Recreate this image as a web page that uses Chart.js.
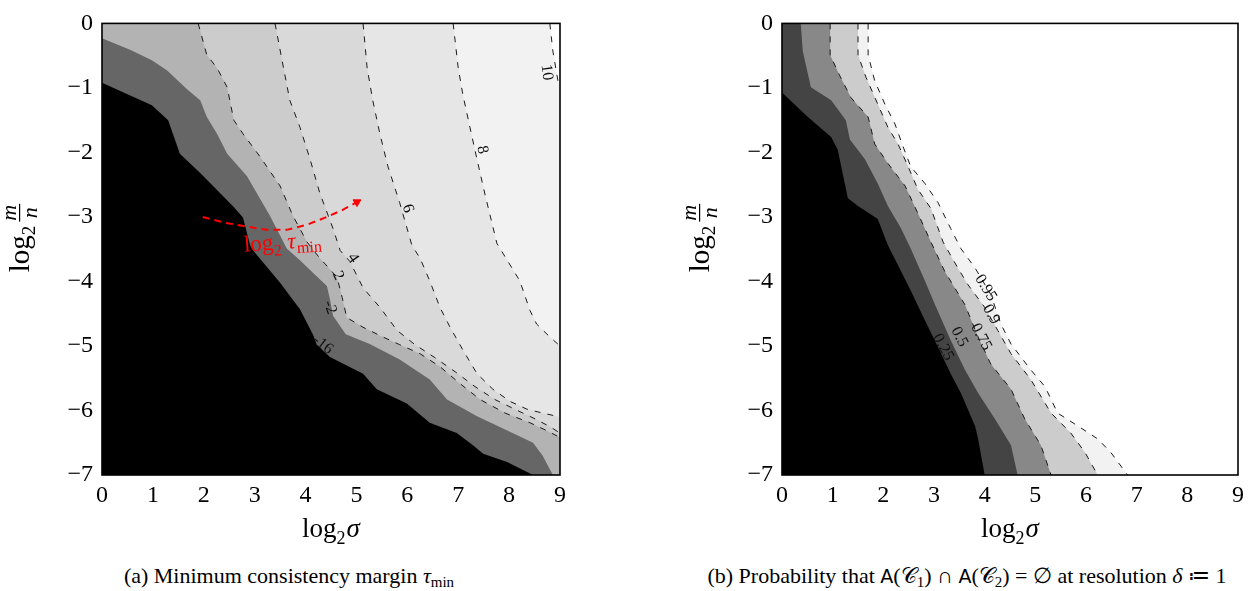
<!DOCTYPE html>
<html>
<head>
<meta charset="utf-8">
<script src="https://cdn.jsdelivr.net/npm/chart.js@4.4.0/dist/chart.umd.min.js"></script>
<style>
body { margin: 0; background: #fff; width: 1258px; height: 591px; position: relative; overflow: hidden; font-family: "Liberation Serif", serif; }
#left { position: absolute; left: 0; top: 0; }
#right { position: absolute; left: 680px; top: 0; }
.cap { position: absolute; top: 564px; font-size: 22px; line-height: 24px; white-space: nowrap; transform: translateX(-50%); color: #000; }
.cap sub { font-size: 15px; vertical-align: -4px; line-height: 0; }
.sf { font-family: "DejaVu Sans", sans-serif; font-size: 19px; }
</style>
</head>
<body>
<canvas id="left" width="600" height="560"></canvas>
<canvas id="right" width="578" height="560"></canvas>
<div class="cap" style="left:289px">(a) Minimum consistency margin <i>τ</i><sub>min</sub></div>
<div class="cap" style="left:967px">(b) Probability that <span class="sf">A</span>(𝒞<sub>1</sub>) ∩ <span class="sf">A</span>(𝒞<sub>2</sub>) = ∅ at resolution <i>δ</i> ≔ 1</div>
<script>
// axes: log2 sigma (x) and log2 m/n (y)
var X_MIN = 0, X_MAX = 9, Y_MIN = -7, Y_MAX = 0;
var xTicks = [0, 1, 2, 3, 4, 5, 6, 7, 8, 9];
var yTicks = [0, -1, -2, -3, -4, -5, -6, -7];

// (a) minimum consistency margin, contour lines [x, y]
var tauLevels = [-16, -2, 2, 4, 6, 8, 10];
var tauColors = ['#666666', '#b3b3b3', '#cccccc', '#d9d9d9', '#e6e6e6', '#f2f2f2', '#ffffff'];
var tauBase = '#000000';
var tauM16 = [[0,-0.92],[0.98,-1.27],[1.30,-1.50],[1.53,-2.02],[1.93,-2.32],[2.57,-2.83],[2.77,-3.01],[2.91,-3.44],[2.97,-3.52],[3.50,-4.02],[3.89,-4.43],[4.15,-4.83],[4.22,-4.98],[4.48,-5.17],[5.13,-5.43],[5.40,-5.67],[5.99,-5.89],[6.44,-6.19],[6.97,-6.35],[7.29,-6.54],[7.49,-6.67],[7.96,-6.80],[8.47,-7]];
var tauM2 = [[0,-0.23],[0.55,-0.41],[0.98,-0.57],[1.28,-0.73],[1.67,-1.02],[1.93,-1.19],[2.06,-1.45],[2.26,-1.71],[2.46,-2.02],[2.85,-2.37],[3.04,-2.63],[3.30,-2.98],[3.63,-3.49],[3.89,-3.67],[4.15,-3.87],[4.42,-4.07],[4.48,-4.28],[4.54,-4.53],[4.79,-4.82],[5.26,-4.97],[5.85,-5.21],[6.44,-5.52],[6.78,-5.83],[7.37,-6.09],[7.88,-6.28],[8.47,-6.50],[8.66,-6.70],[8.86,-7]];
var tau2 = [[1.89,0],[2.06,-0.49],[2.26,-0.69],[2.46,-0.99],[2.59,-1.50],[2.77,-1.71],[3.10,-2.06],[3.50,-2.52],[3.75,-2.98],[4.03,-3.39],[4.28,-3.64],[4.48,-3.81],[4.62,-3.94],[4.72,-4.25],[4.81,-4.56],[5.13,-4.71],[5.52,-4.86],[5.85,-4.98],[6.25,-5.12],[6.64,-5.32],[7.03,-5.58],[7.43,-5.83],[7.92,-6.04],[8.41,-6.19],[8.76,-6.32],[9,-6.42]];
var tau4 = [[3.40,0],[3.54,-0.58],[3.69,-1.19],[3.89,-1.61],[4.09,-2.11],[4.28,-2.63],[4.54,-3.18],[4.68,-3.52],[4.87,-3.69],[5.13,-4.10],[5.46,-4.40],[5.80,-4.76],[6.15,-4.98],[6.54,-5.18],[6.94,-5.40],[7.33,-5.63],[7.72,-5.83],[8.11,-5.98],[8.51,-6.13],[8.80,-6.25],[9,-6.35]];
var tau6 = [[5.13,0],[5.21,-0.69],[5.32,-1.19],[5.46,-1.71],[5.62,-2.22],[5.85,-2.78],[6.09,-3.44],[6.25,-3.64],[6.44,-3.99],[6.64,-4.40],[6.84,-4.71],[7.09,-5.06],[7.37,-5.43],[7.68,-5.67],[8.02,-5.86],[8.35,-5.98],[8.66,-6.04],[9,-6.10]];
var tau8 = [[6.90,0],[7.00,-0.69],[7.09,-1.10],[7.23,-1.61],[7.37,-2.11],[7.52,-2.63],[7.76,-3.41],[8.21,-3.99],[8.41,-4.45],[8.54,-4.66],[8.80,-4.86],[9,-5.00]];
var tau10 = [[8.80,0],[8.86,-0.43],[8.96,-0.89],[9,-0.96]];
var tauLabels = [
  {t: '10', x: 8.74, y: -0.76, a: 82},
  {t: '8', x: 7.47, y: -1.96, a: 78},
  {t: '6', x: 6.01, y: -2.87, a: 72},
  {t: '4', x: 4.93, y: -3.64, a: 55},
  {t: '2', x: 4.64, y: -3.91, a: 65},
  {t: '-2', x: 4.48, y: -4.40, a: 70},
  {t: '-16', x: 4.34, y: -4.98, a: 38}
];
// red annotation arrow
var arrowPath = [[1.98,-3.00],[2.42,-3.09],[2.85,-3.15],[3.24,-3.20],[3.63,-3.20],[4.03,-3.12],[4.42,-3.00],[4.73,-2.89],[5.01,-2.77]];
var arrowText = {x: 3.55, y: -3.39, a: -4};

// (b) probability of empty intersection, contour lines [x, y]
var probLevels = [0.25, 0.5, 0.75, 0.9, 0.95];
var probColors = ['#444444', '#888888', '#cccccc', '#f2f2f2', '#ffffff'];
var probBase = '#000000';
var p25 = [[0,-1.07],[0.51,-1.45],[0.97,-1.76],[1.10,-1.96],[1.30,-2.71],[1.50,-2.83],[1.89,-3.03],[2.09,-3.44],[2.29,-3.75],[2.54,-4.14],[2.82,-4.60],[3.08,-5.02],[3.33,-5.43],[3.53,-5.73],[3.81,-6.24],[3.87,-6.44],[4.00,-7]];
var p50 = [[0.37,0],[0.41,-0.43],[0.57,-0.99],[0.97,-1.19],[1.26,-1.50],[1.34,-1.80],[1.64,-2.11],[1.89,-2.48],[2.09,-2.83],[2.35,-3.18],[2.54,-3.49],[2.82,-3.99],[3.02,-4.36],[3.33,-4.91],[3.61,-5.37],[3.87,-5.73],[4.20,-6.13],[4.52,-6.54],[4.65,-7]];
var p75 = [[0.95,0],[0.95,-0.49],[1.14,-0.81],[1.36,-1.15],[1.70,-1.45],[1.83,-1.87],[2.09,-2.17],[2.43,-2.52],[2.68,-2.94],[2.94,-3.39],[3.21,-3.84],[3.61,-4.36],[3.87,-4.86],[4.12,-5.28],[4.52,-5.67],[4.79,-6.13],[5.11,-6.54],[5.31,-7]];
var p90 = [[1.50,0],[1.50,-0.49],[1.66,-0.84],[1.89,-1.25],[2.09,-1.61],[2.29,-1.87],[2.49,-2.22],[2.68,-2.57],[2.94,-2.87],[3.18,-3.39],[3.47,-3.79],[3.67,-4.05],[4.00,-4.40],[4.26,-4.76],[4.52,-5.12],[4.91,-5.52],[5.31,-6.04],[5.70,-6.35],[5.98,-6.65],[6.23,-7]];
var p95 = [[1.70,0],[1.70,-0.49],[1.83,-0.89],[2.03,-1.25],[2.23,-1.56],[2.39,-1.91],[2.54,-2.22],[2.82,-2.48],[3.08,-2.78],[3.33,-3.18],[3.53,-3.49],[3.81,-3.79],[4.12,-4.20],[4.32,-4.66],[4.52,-4.97],[4.91,-5.37],[5.19,-5.63],[5.44,-6.04],[5.84,-6.24],[6.23,-6.44],[6.49,-6.65],[6.82,-7]];
var probLabels = [
  {t: '0.95', x: 4.02, y: -4.10, a: 58},
  {t: '0.9', x: 4.13, y: -4.51, a: 60},
  {t: '0.75', x: 3.93, y: -4.86, a: 62},
  {t: '0.5', x: 3.50, y: -4.86, a: 62},
  {t: '0.25', x: 3.18, y: -5.02, a: 62}
];

var SERIF = '"Liberation Serif", "DejaVu Serif", serif';

function toPts(curve) {
  return curve.map(function(p) { return {x: p[0], y: p[1]}; });
}

// polygon of the region above a contour line (towards the top right corner)
function closeUp(curve) {
  var pts = toPts(curve);
  var first = curve[0], last = curve[curve.length - 1];
  if (last[1] === Y_MIN) pts.push({x: X_MAX, y: Y_MIN});
  pts.push({x: X_MAX, y: Y_MAX});
  if (first[0] === X_MIN && first[1] < Y_MAX) pts.push({x: X_MIN, y: Y_MAX});
  return pts;
}

function drawRuns(ctx, runs, x, y) {
  var w = 0;
  runs.forEach(function(r) { ctx.font = r[1]; w += ctx.measureText(r[0]).width + (r[3] || 0); });
  var cx = x - w / 2;
  runs.forEach(function(r) {
    ctx.font = r[1];
    ctx.fillText(r[0], cx, y + (r[2] || 0));
    cx += ctx.measureText(r[0]).width + (r[3] || 0);
  });
}

function drawYTitle(ctx, cx, cy) {
  var f1 = '29px ' + SERIF, f2 = '19px ' + SERIF, f3 = 'italic 22px ' + SERIF;
  ctx.save();
  ctx.translate(cx, cy);
  ctx.rotate(-Math.PI / 2);
  ctx.fillStyle = '#000';
  ctx.textAlign = 'left';
  ctx.textBaseline = 'alphabetic';
  ctx.font = f1; var wLog = ctx.measureText('log').width;
  ctx.font = f2; var w2 = ctx.measureText('2').width;
  ctx.font = f3; var wm = ctx.measureText('m').width, wn = ctx.measureText('n').width;
  var wf = Math.max(wm, wn) + 2;
  var x0 = -(wLog + w2 + 4 + wf) / 2, base = 7;
  ctx.font = f1; ctx.fillText('log', x0, base);
  ctx.font = f2; ctx.fillText('2', x0 + wLog, base + 6);
  var fx = x0 + wLog + w2 + 4;
  ctx.font = f3;
  ctx.fillText('m', fx + (wf - wm) / 2, base - 13);
  ctx.fillText('n', fx + (wf - wn) / 2, base + 8);
  ctx.fillRect(fx, base - 10, wf, 1.2);
  ctx.restore();
}

var contourPlugin = {
  id: 'contour',
  beforeDatasetsDraw: function(chart) {
    var a = chart.chartArea, ctx = chart.ctx;
    ctx.save();
    ctx.fillStyle = chart.options.plugins.contour.base;
    ctx.fillRect(a.left, a.top, a.right - a.left, a.bottom - a.top);
    ctx.restore();
  },
  afterDatasetsDraw: function(chart) {
    var opts = chart.options.plugins.contour;
    var ctx = chart.ctx, xs = chart.scales.x, ys = chart.scales.y, a = chart.chartArea;
    ctx.save();
    ctx.fillStyle = '#111';
    ctx.font = '16px ' + SERIF;
    ctx.textAlign = 'center';
    ctx.textBaseline = 'middle';
    opts.labels.forEach(function(l) {
      ctx.save();
      ctx.translate(xs.getPixelForValue(l.x), ys.getPixelForValue(l.y));
      ctx.rotate(l.a * Math.PI / 180);
      ctx.fillText(l.t, 0, 0);
      ctx.restore();
    });
    if (opts.arrowText) {
      ctx.save();
      ctx.translate(xs.getPixelForValue(opts.arrowText.x), ys.getPixelForValue(opts.arrowText.y));
      ctx.rotate(opts.arrowText.a * Math.PI / 180);
      ctx.fillStyle = '#ff0000';
      ctx.textAlign = 'left';
      ctx.textBaseline = 'alphabetic';
      drawRuns(ctx, [['log', '23px ' + SERIF, 0, 0], ['2', '16px ' + SERIF, 6, 6], ['τ', 'italic 23px ' + SERIF, 0, 1], ['min', '16px ' + SERIF, 5, 0]], 0, 7);
      ctx.restore();
    }
    // frame
    ctx.strokeStyle = '#000';
    ctx.lineWidth = 1.6;
    ctx.strokeRect(a.left, a.top, a.right - a.left, a.bottom - a.top);
    ctx.restore();
  },
  afterDraw: function(chart) {
    var ctx = chart.ctx, a = chart.chartArea;
    drawYTitle(ctx, 22, 238);
    ctx.save();
    ctx.fillStyle = '#000';
    ctx.textAlign = 'left';
    ctx.textBaseline = 'alphabetic';
    drawRuns(ctx, [['log', '27px ' + SERIF, 0, 0], ['2', '18px ' + SERIF, 7, 1], ['σ', 'italic 27px ' + SERIF, 0, 0]], (a.left + a.right) / 2, 537);
    ctx.restore();
  }
};

function minusFmt(v) {
  return v < 0 ? '\u2212' + Math.abs(v) : String(v);
}

// dashFrom: first level whose contour line is drawn dashed
function makeChart(id, curves, colors, base, labels, rightPad, dashFrom, arrow, aText) {
  var datasets = [];
  curves.forEach(function(c, i) {
    datasets.push({
      data: closeUp(c), showLine: true, fill: 'shape', backgroundColor: colors[i],
      borderWidth: 0, pointRadius: 0, order: 100 - i
    });
  });
  curves.forEach(function(c, i) {
    if (i < dashFrom) return;
    datasets.push({
      data: toPts(c), showLine: true, fill: false, borderColor: '#1a1a1a', borderWidth: 1,
      borderDash: [6, 7], pointRadius: 0, order: 10
    });
  });
  if (arrow) {
    datasets.push({
      data: toPts(arrow), showLine: true, fill: false, borderColor: '#ff0000', borderWidth: 2,
      borderDash: [7, 5], order: 0, pointStyle: 'triangle', rotation: 60,
      pointBackgroundColor: '#ff0000', pointBorderColor: '#ff0000', pointBorderWidth: 1,
      pointRadius: function(c) { return c.dataIndex === arrow.length - 1 ? 4.5 : 0; }
    });
  }
  return new Chart(document.getElementById(id), {
    type: 'scatter',
    data: {datasets: datasets},
    options: {
      responsive: false,
      animation: false,
      devicePixelRatio: 1,
      layout: {padding: {top: 17, right: rightPad, left: 0, bottom: 0}},
      elements: {line: {tension: 0}},
      scales: {
        x: {
          type: 'linear', min: X_MIN, max: X_MAX,
          grid: {display: false, drawTicks: false},
          border: {display: false},
          afterBuildTicks: function(s) { s.ticks = xTicks.map(function(v) { return {value: v}; }); },
          afterFit: function(s) { s.height = 85; },
          ticks: {color: '#000', padding: 6, maxRotation: 0, font: {family: SERIF, size: 24}, callback: minusFmt}
        },
        y: {
          type: 'linear', min: Y_MIN, max: Y_MAX,
          grid: {display: false, drawTicks: false},
          border: {display: false},
          afterBuildTicks: function(s) { s.ticks = yTicks.map(function(v) { return {value: v}; }); },
          afterFit: function(s) { s.width = 102; },
          ticks: {color: '#000', padding: 9, font: {family: SERIF, size: 24}, callback: minusFmt}
        }
      },
      plugins: {
        legend: {display: false},
        tooltip: {enabled: false},
        contour: {base: base, labels: labels, arrowText: aText}
      }
    },
    plugins: [contourPlugin]
  });
}

makeChart('left', [tauM16, tauM2, tau2, tau4, tau6, tau8, tau10], tauColors, tauBase, tauLabels, 40, 2, arrowPath, arrowText);
makeChart('right', [p25, p50, p75, p90, p95], probColors, probBase, probLabels, 20, 2, null, null);
</script>
</body>
</html>
